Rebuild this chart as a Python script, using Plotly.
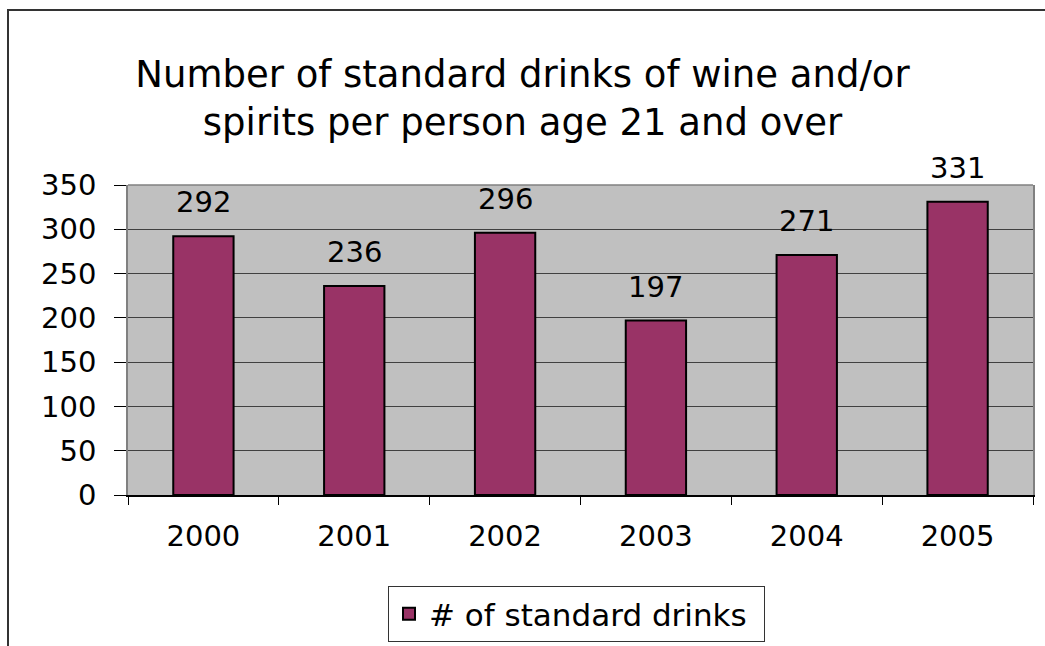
import plotly.graph_objects as go

years = ["2000", "2001", "2002", "2003", "2004", "2005"]
drinks = [292, 236, 296, 197, 271, 331]
series_name = "# of standard drinks"
y_ticks = [0, 50, 100, 150, 200, 250, 300, 350]

FONT = "DejaVu Sans, Verdana, sans-serif"
BAR_COLOR = "#993366"

fig = go.Figure()
fig.add_trace(go.Bar(
    x=years, y=drinks, name=series_name,
    marker=dict(color=BAR_COLOR, line=dict(color="black", width=2)),
    showlegend=True,
))

# value labels above each bar (category index as x position)
for i, v in enumerate(drinks):
    fig.add_annotation(x=i, y=v, xref="x", yref="y", text=str(v), showarrow=False,
                       yanchor="middle", yshift=34,
                       font=dict(family=FONT, size=29, color="black"))

# top edge of the plot frame
fig.add_shape(type="line", xref="paper", yref="paper", x0=0, x1=1, y0=1, y1=1,
              line=dict(color="#808080", width=1.5))
# outer chart border
fig.add_shape(type="rect", xref="paper", yref="paper",
              x0=(8 - 128) / 905, x1=(1060 - 128) / 905,
              y0=(495 - 660) / 310, y1=(495 - 10) / 310,
              line=dict(color="#333333", width=2), layer="below")

fig.update_layout(
    width=1045, height=646,
    margin=dict(l=128, r=12, t=185, b=151, pad=0, autoexpand=False),
    paper_bgcolor="white", plot_bgcolor="#C0C0C0",
    font=dict(family=FONT, size=29, color="black"),
    bargap=0.6,
    title=dict(text="Number of standard drinks of wine and/or<br>spirits per person age 21 and over",
               x=0.5, xref="container", y=1 - 87 / 646, yref="container",
               xanchor="center", yanchor="middle",
               font=dict(family=FONT, size=37, color="black")),
    legend=dict(x=(388 - 128) / 905, y=(495 - 586) / 310, xanchor="left", yanchor="top",
                orientation="h", entrywidth=330, bordercolor="#333333", borderwidth=1,
                bgcolor="white", font=dict(family=FONT, size=31, color="black")),
    xaxis=dict(type="category", range=[-0.5, len(years) - 0.5], autorange=False,
               showline=True, linecolor="black", linewidth=1.5,
               ticks="outside", tickson="boundaries", ticklen=8, tickcolor="black",
               ticklabelstandoff=14, showgrid=False, tickangle=0, automargin=False,
               tickfont=dict(family=FONT, size=29, color="black")),
    yaxis=dict(range=[0, 350], tickvals=y_ticks, showline=True, linecolor="#808080",
               linewidth=1.5, mirror=True, ticks="outside", ticklen=12, tickcolor="black",
               ticklabelstandoff=12, showgrid=True, gridcolor="#404040", gridwidth=1,
               zeroline=False, automargin=False,
               tickfont=dict(family=FONT, size=29, color="black")),
)

fig.write_html("out.html")
